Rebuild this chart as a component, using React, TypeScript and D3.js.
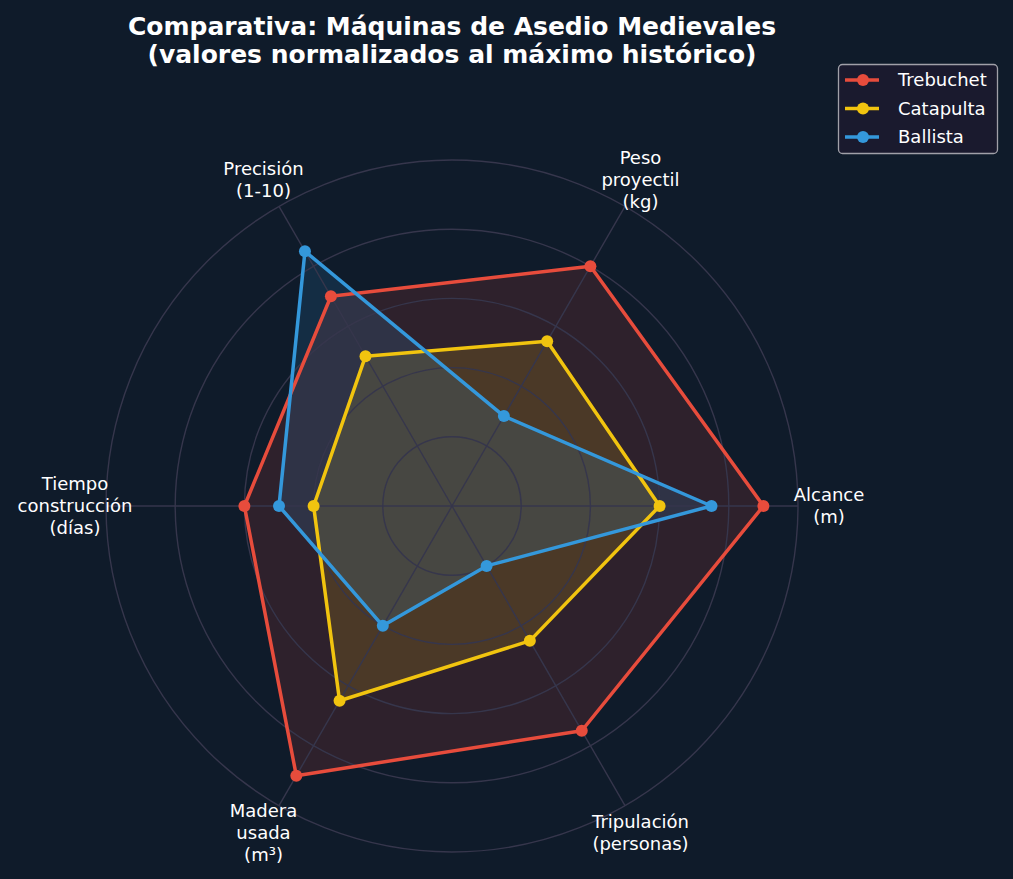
import React from 'react';
import * as d3 from 'd3';

// axis labels (counter-clockwise, starting at the right)
const axes = [
  ['Alcance', '(m)'],
  ['Peso', 'proyectil', '(kg)'],
  ['Precisión', '(1-10)'],
  ['Tiempo', 'construcción', '(días)'],
  ['Madera', 'usada', '(m³)'],
  ['Tripulación', '(personas)'],
];

const machines = ['Trebuchet', 'Catapulta', 'Ballista'];
const colors = ['#e74c3c', '#f1c40f', '#3498db'];

const trebuchet = [0.9, 0.8, 0.7, 0.6, 0.9, 0.75];
const catapulta = [0.6, 0.55, 0.5, 0.4, 0.65, 0.45];
const ballista = [0.75, 0.3, 0.85, 0.5, 0.4, 0.2];
const series = [trebuchet, catapulta, ballista];

const rings = [0.2, 0.4, 0.6, 0.8, 1.0];

const titleLines = [
  'Comparativa: Máquinas de Asedio Medievales',
  '(valores normalizados al máximo histórico)',
];

const W = 1013;
const H = 879;
const cx = 452;
const cy = 506;
const R = 346;
const BG = '#0f1b2a';
const GRID = '#36364c';

export default function App() {
  const r = d3.scaleLinear().domain([0, 1]).range([0, R]);
  // math angle of axis i (radians, counter-clockwise from east)
  const theta = d3.scaleLinear().domain([0, axes.length]).range([0, 2 * Math.PI]);
  // d3 radial angle: clockwise from north
  const ang = (i: number) => Math.PI / 2 - theta(i);

  const radial = d3
    .lineRadial<number>()
    .angle((_, i) => ang(i))
    .radius((v) => r(v))
    .curve(d3.curveLinearClosed);

  const px = (i: number, v: number) => r(v) * Math.cos(theta(i));
  const py = (i: number, v: number) => -r(v) * Math.sin(theta(i));

  return (
    <svg width={W} height={H} style={{ position: 'absolute', left: 0, top: 0, background: BG }}
      fontFamily="'DejaVu Sans', sans-serif">
      <rect width={W} height={H} fill={BG} />
      <g transform={`translate(${cx},${cy})`}>
        {/* fills */}
        {series.map((s, k) => (
          <path key={'f' + k} d={radial(s) || ''} fill={colors[k]} fillOpacity={0.15} stroke="none" />
        ))}
        {/* grid */}
        {rings.map((t) => (
          <circle key={t} r={r(t)} fill="none" stroke={GRID} strokeWidth={1.4} />
        ))}
        {axes.map((_, i) => (
          <line key={'a' + i} x1={0} y1={0} x2={px(i, 1)} y2={py(i, 1)} stroke={GRID} strokeWidth={1.4} />
        ))}
        {/* lines + markers */}
        {series.map((s, k) => (
          <g key={'s' + k}>
            <path d={radial(s) || ''} fill="none" stroke={colors[k]} strokeWidth={3.5} strokeLinejoin="round" />
            {s.map((v, i) => (
              <circle key={i} cx={px(i, v)} cy={py(i, v)} r={6} fill={colors[k]} />
            ))}
          </g>
        ))}
        {/* axis labels */}
        {axes.map((lines, i) => {
          const lx = px(i, 1) * (377 / R);
          const ly = py(i, 1) * (377 / R);
          const lh = 22;
          const top = ly - ((lines.length - 1) * lh) / 2;
          return (
            <text key={'l' + i} fill="#ffffff" fontSize={18} textAnchor="middle">
              {lines.map((t, j) => (
                <tspan key={j} x={lx} y={top + j * lh} dy="0.35em">{t}</tspan>
              ))}
            </text>
          );
        })}
      </g>
      {/* title */}
      <text fill="#ffffff" fontSize={25} fontWeight="bold" textAnchor="middle">
        {titleLines.map((t, j) => (
          <tspan key={j} x={452} y={35 + j * 28}>{t}</tspan>
        ))}
      </text>
      {/* legend */}
      <g transform="translate(838,64)">
        <rect x={0.5} y={0.5} width={159} height={89} rx={4} fill="#1a1a2e" stroke="#a0a0a8" strokeWidth={1.3} />
        {machines.map((m, k) => (
          <g key={m} transform={`translate(0,${16 + k * 28.5})`}>
            <line x1={7} x2={41} y1={0} y2={0} stroke={colors[k]} strokeWidth={3.5} />
            <circle cx={25} cy={0} r={6} fill={colors[k]} />
            <text x={60} y={0} dy="0.35em" fill="#ffffff" fontSize={18}>{m}</text>
          </g>
        ))}
      </g>
    </svg>
  );
}
